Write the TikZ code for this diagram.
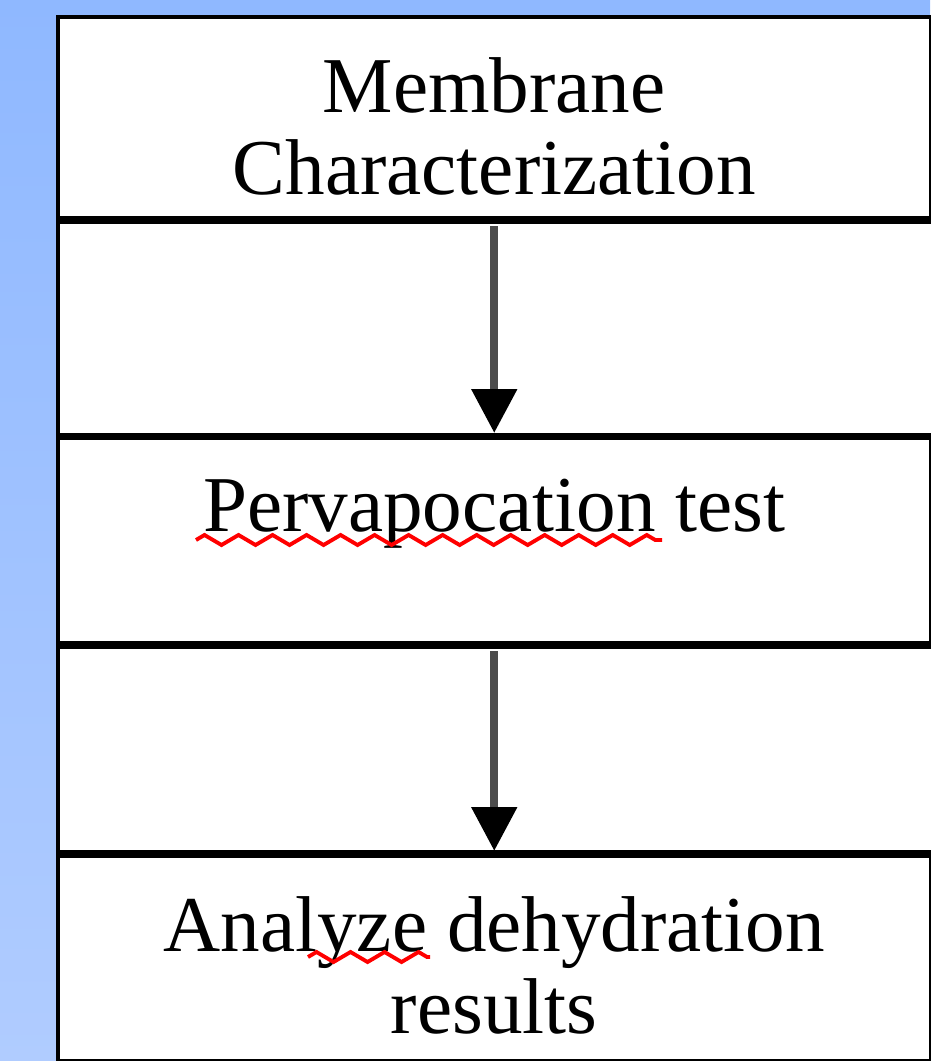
\documentclass[tikz,border=0pt]{standalone}
\usepackage{fontspec}
\setmainfont{Liberation Serif}
\usetikzlibrary{arrows.meta,positioning,decorations.pathmorphing}

\definecolor{bgtop}{RGB}{143,184,255}
\definecolor{bgbottom}{RGB}{176,204,255}

\tikzset{
  panel/.style={draw=black, line width=0.04cm, fill=white, inner sep=0pt, anchor=north west, minimum height=2.05cm},
  steptext/.style={anchor=north, inner sep=0pt, align=center, font=\fontsize{22.5}{23.3}\selectfont},
  flow/.style={draw=black!70, line width=2.4pt, shorten <=0.06cm, shorten >=0.03cm,
               -{Triangle[length=12.5pt,width=12.5pt,color=black]}},
  spell/.style={red, line width=1.1pt, decorate, decoration={zigzag, segment length=0.34cm, amplitude=0.05cm}}
}

\begin{document}
\begin{tikzpicture}[x=0.01cm,y=-0.01cm]

% page and background
\useasboundingbox (0,0) rectangle (930,1061);
\shade[top color=bgtop, bottom color=bgbottom] (0,0) rectangle (930,1061);

% the five stacked panels
\node[panel, minimum width=8.72cm, minimum height=2.01cm] (b1) at (56,15) {};
\node[panel, minimum width=8.75cm, minimum height=2.13cm] (b2) at (56,220) {};
\node[panel, minimum width=8.72cm] (b3) at (56,436) {};
\node[panel, minimum width=8.75cm] (b4) at (56,645) {};
\node[panel, minimum width=8.72cm] (b5) at (56,854) {};

% texts
\node[steptext, below=0.42cm of b1.north] (t1) {Membrane\\Characterization};
\node[steptext, below=0.42cm of b3.north] (t3) {Pervapocation test};
\node[steptext, below=0.42cm of b5.north] (t5) {Analyze dehydration\\results};

% spelling marks
\draw[spell] (196,540) -- (662,540);
\draw[spell] (308,957) -- (430,957);

% arrows
\draw[flow] (b1.south) -- (b3.north);
\draw[flow] (b3.south) -- (b5.north);

\end{tikzpicture}
\end{document}
